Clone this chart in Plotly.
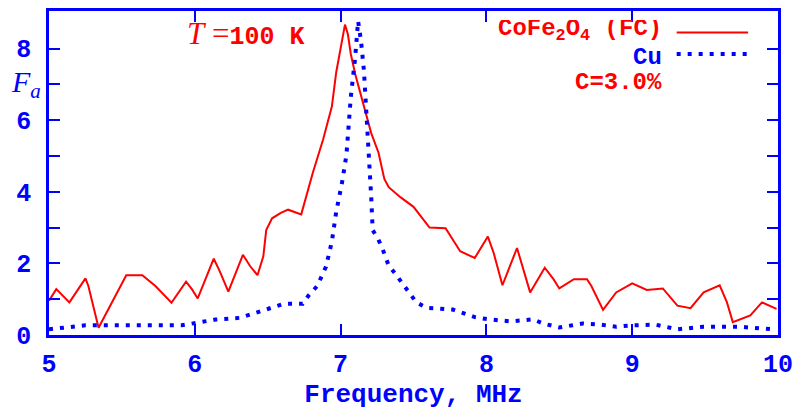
import plotly.graph_objects as go

# CoFe2O4 (FC), C=3.0%, T=100 K
fc_freq = [5.00, 5.05, 5.14, 5.25, 5.27, 5.34, 5.53, 5.64, 5.73, 5.84, 5.94, 5.98, 6.02,
           6.13, 6.17, 6.23, 6.33, 6.38, 6.43, 6.47, 6.49, 6.53, 6.59, 6.64, 6.73, 6.76,
           6.81, 6.88, 6.94, 6.97, 7.01, 7.03, 7.05, 7.07, 7.10, 7.13, 7.17, 7.21, 7.26,
           7.30, 7.33, 7.41, 7.50, 7.61, 7.72, 7.82, 7.92, 8.01, 8.05, 8.11, 8.21, 8.24,
           8.30, 8.40, 8.46, 8.50, 8.60, 8.69, 8.72, 8.80, 8.89, 9.00, 9.10, 9.21, 9.31,
           9.40, 9.49, 9.60, 9.65, 9.69, 9.81, 9.89, 9.99]
fc_vals = [0.96, 1.28, 0.91, 1.58, 1.37, 0.20, 1.67, 1.67, 1.37, 0.90, 1.49, 1.28, 1.02,
           2.13, 1.79, 1.21, 2.24, 1.92, 1.67, 2.20, 2.93, 3.26, 3.41, 3.50, 3.37, 3.80,
           4.54, 5.46, 6.38, 7.34, 8.21, 8.67, 8.40, 7.85, 7.29, 6.84, 6.19, 5.64, 5.09,
           4.36, 4.13, 3.85, 3.58, 3.00, 2.98, 2.34, 2.15, 2.75, 2.29, 1.39, 2.43, 2.02,
           1.19, 1.88, 1.56, 1.30, 1.56, 1.56, 1.37, 0.70, 1.19, 1.44, 1.26, 1.30, 0.82,
           0.75, 1.19, 1.39, 0.91, 0.36, 0.55, 0.91, 0.73]

# Cu reference
cu_freq = [5.00, 5.25, 5.91, 5.99, 6.14, 6.31, 6.54, 6.61, 6.74, 6.78, 6.84, 6.90, 6.94,
           6.97, 7.01, 7.04, 7.07, 7.10, 7.12, 7.14, 7.16, 7.18, 7.19, 7.21, 7.22, 7.26,
           7.29, 7.33, 7.37, 7.43, 7.52, 7.59, 7.77, 7.92, 8.01, 8.17, 8.32, 8.39, 8.50,
           8.59, 8.66, 8.78, 8.89, 9.00, 9.16, 9.31, 9.49, 9.74, 9.99]
cu_vals = [0.16, 0.27, 0.27, 0.32, 0.43, 0.48, 0.76, 0.87, 0.87, 1.10, 1.37, 1.91, 2.61,
           3.44, 4.26, 5.03, 6.65, 7.75, 8.77, 8.21, 7.39, 6.10, 5.18, 3.85, 2.93, 2.66,
           2.38, 1.94, 1.74, 1.42, 0.91, 0.76, 0.71, 0.50, 0.44, 0.38, 0.44, 0.32, 0.21,
           0.27, 0.32, 0.29, 0.23, 0.27, 0.29, 0.16, 0.23, 0.23, 0.15]

x_ticks = [5, 6, 7, 8, 9, 10]
y_ticks = [0, 1, 2, 3, 4, 5, 6, 7, 8]
y_ticktext = ["0", " ", "2", " ", "4", " ", "6", " ", "8"]

BLUE = "#0000ff"
RED = "#ff0000"
MONO = "Liberation Mono"
SERIF = "Liberation Serif"

fig = go.Figure()
fig.add_trace(go.Scatter(x=fc_freq, y=fc_vals, mode="lines",
                         line=dict(color=RED, width=2), name="CoFe2O4 (FC)"))
fig.add_trace(go.Scatter(x=cu_freq, y=cu_vals, mode="lines",
                         line=dict(color=BLUE, width=4, dash="4px,7px"), name="Cu"))

axis_common = dict(showline=True, linecolor=BLUE, linewidth=2.5, mirror="ticks",
                   ticks="inside", ticklen=11, tickwidth=2, tickcolor=BLUE,
                   showgrid=False, zeroline=False,
                   tickfont=dict(family=MONO, size=25, color=BLUE, weight="bold"))

# The page body has an 8px margin, so the figure is sized to fit inside it.
fig.update_layout(
    width=793, height=402,
    margin=dict(l=41, r=23, t=0, b=72),
    paper_bgcolor="white", plot_bgcolor="white",
    showlegend=False,
    xaxis=dict(range=[5, 10], tickvals=x_ticks, ticktext=[str(v) for v in x_ticks],
               ticklabelstandoff=4,
               title=dict(text="Frequency, MHz", standoff=12,
                          font=dict(family=MONO, size=26, color=BLUE, weight="bold")),
               **axis_common),
    yaxis=dict(range=[0, 9.05], tickvals=y_ticks, ticktext=y_ticktext,
               ticklabelstandoff=10, **axis_common),
)

# Y axis label F_a
fig.add_annotation(xref="paper", yref="y", x=-0.032, y=7, xanchor="center", yanchor="middle",
                   text="<i>F<sub>a</sub></i>", showarrow=False,
                   font=dict(family=SERIF, size=30, color=BLUE))

# Temperature label
fig.add_annotation(xref="paper", yref="paper", x=0.27, y=0.930, xanchor="center", yanchor="middle",
                   text="<span style='font-family:Liberation Serif;font-size:31px'><i>T</i> =</span><b>100 K</b>",
                   showarrow=False, font=dict(family=MONO, size=25, color=RED))

# Legend texts
fig.add_annotation(xref="paper", yref="paper", x=0.844, y=0.940, xanchor="right", yanchor="middle",
                   text="<b>CoFe<sub>2</sub>O<sub>4</sub> (FC)</b>", showarrow=False, height=20,
                   font=dict(family=MONO, size=24, color=RED))
fig.add_annotation(xref="paper", yref="paper", x=0.844, y=0.859, xanchor="right", yanchor="middle",
                   text="<b>Cu</b>", showarrow=False, height=20,
                   font=dict(family=MONO, size=24, color=BLUE))
fig.add_annotation(xref="paper", yref="paper", x=0.844, y=0.782, xanchor="right", yanchor="middle",
                   text="<b>C=3.0%</b>", showarrow=False, height=20,
                   font=dict(family=MONO, size=24, color=RED))

# Legend samples
fig.add_shape(type="line", xref="paper", yref="paper", x0=0.861, x1=0.959, y0=0.934, y1=0.934,
              line=dict(color=RED, width=2))
fig.add_shape(type="line", xref="paper", yref="paper", x0=0.861, x1=0.964, y0=0.867, y1=0.867,
              line=dict(color=BLUE, width=4, dash="4px,7px"))

fig.write_html("out.html")
